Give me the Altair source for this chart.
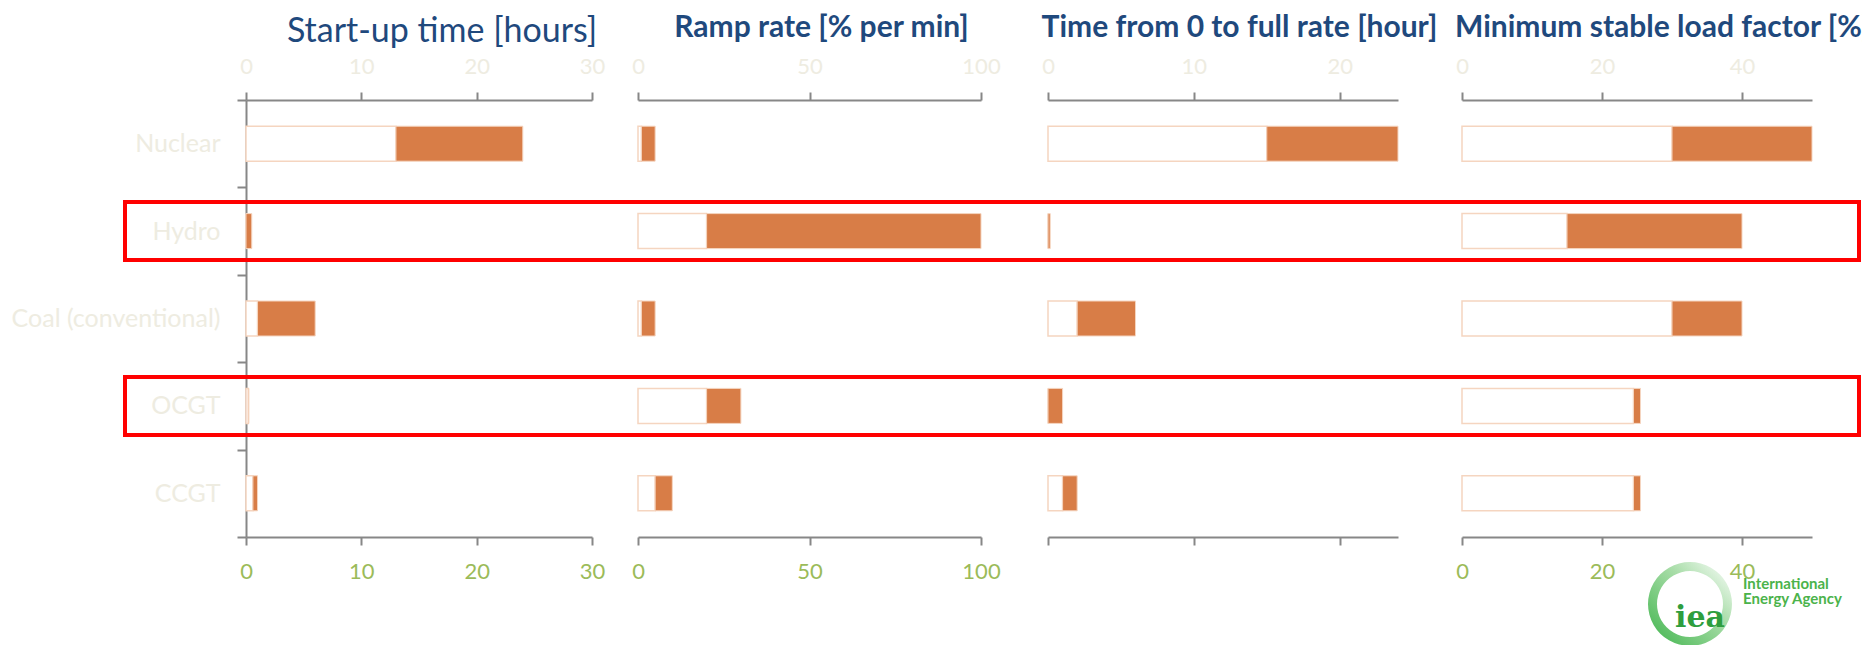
import altair as alt
import pandas as pd

# ---------------- data ----------------
tech = ["Nuclear", "Hydro", "Coal (conventional)", "OCGT", "CCGT"]

startup_low = [13, 0, 1, 0.2, 0.6]
startup_high = [24, 0.5, 6, 0.25, 1.0]

ramp_low = [1, 20, 1, 20, 5]
ramp_high = [5, 100, 5, 30, 10]

full_low = [15, 0, 2, 0, 1]
full_high = [24, 0.15, 6, 1, 2]

msl_low = [30, 15, 30, 24.5, 24.5]
msl_high = [50, 40, 40, 25.5, 25.5]

highlight = ["Hydro", "OCGT"]

titles = [
    "Start-up time [hours]",
    "Ramp rate [% per min]",
    "Time from 0 to full rate [hour]",
    "Minimum stable load factor [%]",
]
ticks_startup = [0, 10, 20, 30]
ticks_ramp = [0, 50, 100]
ticks_full = [0, 10, 20]
ticks_msl = [0, 20, 40]

# ---------------- style ----------------
FONT = "Lato"
ORANGE = "#D87D47"
EDGE = "#F5D5C0"
GRAY = "#878787"
BEIGE = "#EEECE1"
GREEN = "#9BBB59"
NAVY = "#1F497D"
H = 437

yscale = alt.Scale(domain=tech, paddingInner=0, paddingOuter=0)


def y_enc(show):
    if show:
        ax = alt.Axis(title=None, orient="left", domain=True, domainColor=GRAY,
                      domainWidth=2, ticks=True, tickColor=GRAY, tickWidth=2,
                      tickSize=9, tickBand="extent", labelColor=BEIGE,
                      labelFont=FONT, labelFontSize=25, labelPadding=17,
                      labelLimit=400, grid=False)
        return alt.Y("tech:N", scale=yscale, axis=ax, sort=None)
    return alt.Y("tech:N", scale=yscale, axis=None, sort=None)


def x_axis(orient, ticks, labels=True):
    return alt.Axis(orient=orient, values=ticks, title=None, grid=False,
                    domainColor=GRAY, domainWidth=2, tickColor=GRAY, tickWidth=2,
                    tickSize=8, labels=labels, labelFont=FONT, labelFontSize=22,
                    labelColor=BEIGE if orient == "top" else GREEN,
                    labelPadding=14 if orient == "top" else 16,
                    labelFlush=False, labelOverlap=False)


def panel(low, high, domain, ticks, width, rng, title, dx, anchor="middle",
          bold=True, tsize=30, toffset=12, show_y=False, bottom_labels=True,
          extra=None):
    df = pd.DataFrame({"tech": tech, "low": low, "high": high})
    xs = alt.Scale(domain=domain, range=rng, nice=False, zero=True)
    base = alt.Chart(df)
    white = base.mark_bar(size=35, fill="white", stroke=EDGE, strokeWidth=1.5).encode(
        x=alt.X("low:Q", scale=xs, axis=x_axis("top", ticks), stack=None),
        y=y_enc(show_y),
    )
    orange = base.mark_bar(size=35, fill=ORANGE, stroke=EDGE, strokeWidth=1).encode(
        x=alt.X("low:Q", scale=xs, axis=x_axis("bottom", ticks, bottom_labels)),
        x2="high:Q",
        y=y_enc(show_y),
    )
    layers = [white, orange] + (extra or [])
    return alt.layer(*layers).resolve_axis(x="independent").properties(
        width=width, height=H,
        title=alt.TitleParams(title, anchor=anchor, frame="group", dx=dx,
                              offset=toffset, font=FONT, fontSize=tsize,
                              fontWeight="bold" if bold else "normal", color=NAVY),
    )


# red highlight boxes (annotation)
boxes = alt.Chart(pd.DataFrame({"tech": highlight})).mark_bar(
    orient="horizontal", size=58, fill="white", fillOpacity=0,
    stroke="#FF0000", strokeWidth=4,
).encode(x=alt.value(-121), x2=alt.value(1613), y=y_enc(True))

# IEA logo (decoration)
one = pd.DataFrame({"k": [0]})
ring = alt.Chart(one).mark_arc(
    radius=42, radius2=33, theta=0, theta2=6.283,
    fill=alt.Gradient(gradient="linear",
                      stops=[alt.GradientStop(color="#3DB34A", offset=0),
                             alt.GradientStop(color="#A8DDA8", offset=0.6),
                             alt.GradientStop(color="#FFFFFF", offset=1)],
                      x1=0, y1=1, x2=1, y2=0),
).encode(x=alt.value(246), y=alt.value(504))
iea = alt.Chart(one).mark_text(text="iea", font="DejaVu Serif", fontSize=30,
                               fontWeight="bold", color="#2E9E3E", align="center",
                               baseline="alphabetic").encode(
    x=alt.value(256), y=alt.value(527))
intl = alt.Chart(one).mark_text(text="International", font=FONT, fontSize=15,
                                fontWeight="bold", color="#4BB34B", align="left",
                                baseline="alphabetic").encode(
    x=alt.value(299), y=alt.value(489))
agency = alt.Chart(one).mark_text(text="Energy Agency", font=FONT, fontSize=15,
                                  fontWeight="bold", color="#4BB34B", align="left",
                                  baseline="alphabetic").encode(
    x=alt.value(299), y=alt.value(504))

p1 = panel(startup_low, startup_high, [0, 30], ticks_startup, 346, [0, 346],
           titles[0], dx=23, bold=False, tsize=34, toffset=6, show_y=True,
           extra=[boxes])
p2 = panel(ramp_low, ramp_high, [0, 100], ticks_ramp, 343, [0, 343],
           titles[1], dx=12)
p3 = panel(full_low, full_high, [0, 24], ticks_full, 371, [21, 371],
           titles[2], dx=27, bottom_labels=False)
p4 = panel(msl_low, msl_high, [0, 50], ticks_msl, 368, [18, 368],
           titles[3], dx=11, anchor="start", extra=[ring, iea, intl, agency])

chart = alt.hconcat(p1, p2, p3, p4, spacing=46, bounds="flush").properties(
    autosize=alt.AutoSizeParams(type="none"),
    padding={"left": 238, "top": 92, "right": 1616, "bottom": 528},
).configure(
    background="white",
    view=alt.ViewConfig(stroke="transparent", strokeWidth=0),
)

chart.save("out.html", embed_options={"renderer": "svg", "actions": False})
